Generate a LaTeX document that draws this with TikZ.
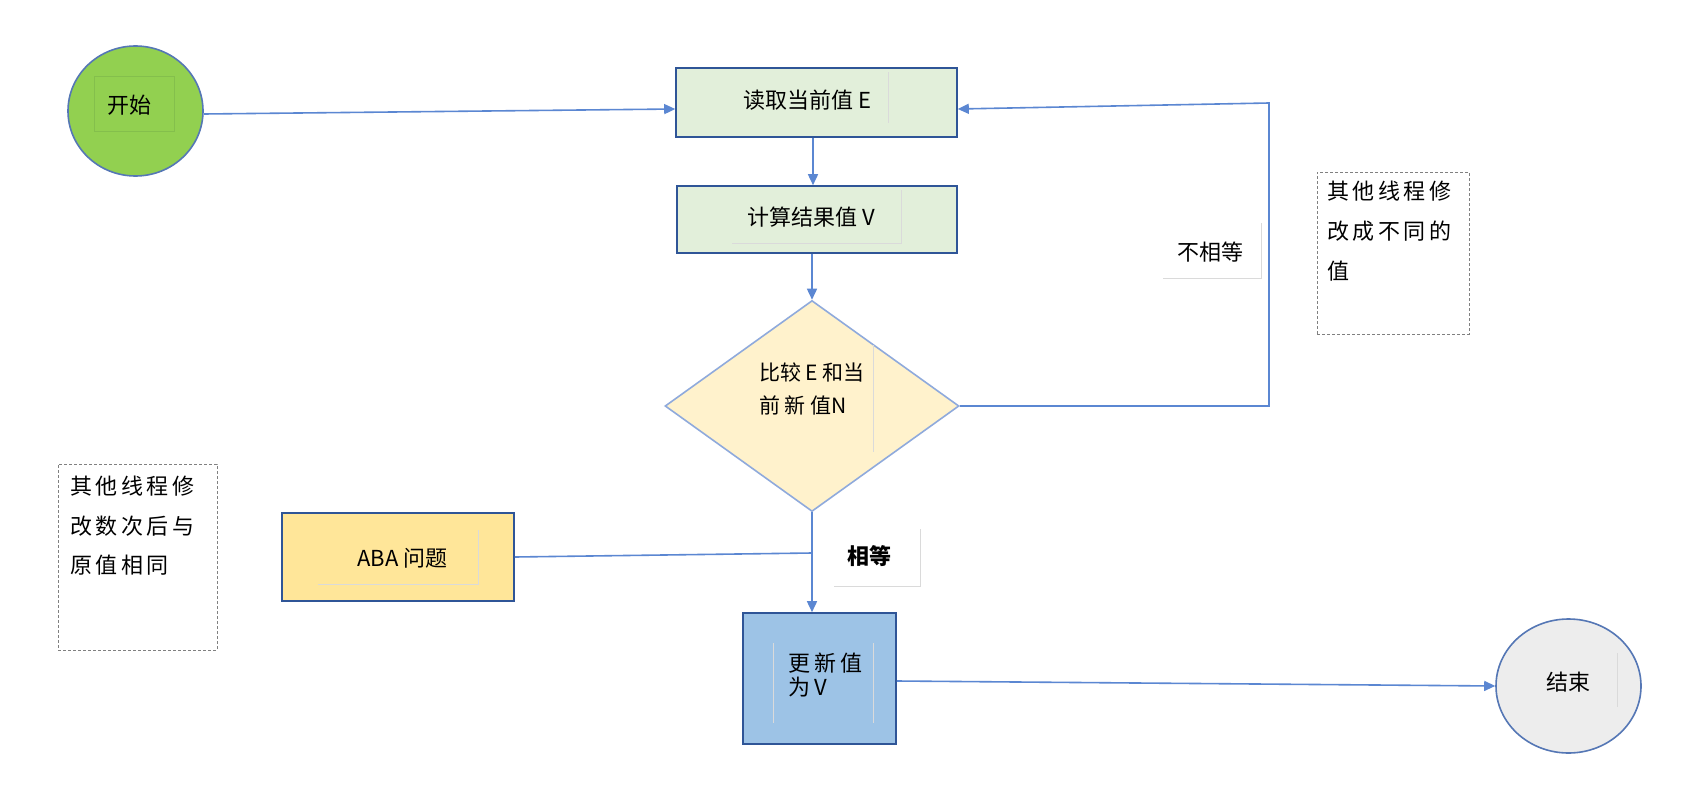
\documentclass[tikz,border=0pt]{standalone}
\usepackage{fontspec}
\setmainfont{Noto Sans CJK SC}
\newfontfamily\spaced[LetterSpace=16]{Noto Sans CJK SC}
\usetikzlibrary{shapes.geometric,arrows.meta}
\definecolor{conn}{HTML}{5B87D2}
\definecolor{darkb}{HTML}{2F5597}
\definecolor{midb}{HTML}{5577B5}
\definecolor{lightb}{HTML}{8FAADC}
\definecolor{startfill}{HTML}{92D050}
\definecolor{procfill}{HTML}{E2EFDA}
\definecolor{decfill}{HTML}{FFF2CC}
\definecolor{abafill}{HTML}{FFE699}
\definecolor{updfill}{HTML}{9DC3E6}
\definecolor{endfill}{HTML}{EDEDED}
\definecolor{ghost}{HTML}{DADADA}
\definecolor{ghostgreen}{HTML}{84BF4C}
\begin{document}
\begin{tikzpicture}[x=1pt,y=-1pt,
  base/.style={font={\fontsize{22}{26}\selectfont}, inner sep=0pt, line width=1.6pt},
  terminal/.style={base, ellipse, draw=midb},
  proc/.style={base, rectangle, draw=darkb},
  decision/.style={base, diamond, draw=lightb, fill=decfill},
  notebox/.style={draw=gray, dashed, dash pattern=on 3pt off 2pt, line width=1pt, inner sep=0pt},
  notetext/.style={font={\spaced\fontsize{22}{40}\selectfont}, align=left, anchor=north west, inner sep=0pt},
  lbl/.style={font={\fontsize{22}{26}\selectfont}, inner sep=0pt},
  arrow/.style={draw=conn, line width=1.6pt, -{Triangle[length=11pt,width=10pt]}},
  link/.style={draw=conn, line width=1.6pt},
  ghostline/.style={draw=ghost, line width=0.8pt}
]
\useasboundingbox (0,0) rectangle (1692,803);
\fill[white] (0,0) rectangle (1692,803);

% nodes
\node[terminal, fill=startfill, minimum width=135pt, minimum height=130pt,
  label={[lbl, xshift=-6pt, yshift=6pt]center:开始}] (start) at (135.5,111) {};
\node[proc, fill=procfill, minimum width=281pt, minimum height=69pt,
  label={[lbl, xshift=-9pt, yshift=2.5pt]center:读取当前值 E}] (read) at (816.5,102.5) {};
\node[proc, fill=procfill, minimum width=280pt, minimum height=67pt,
  label={[lbl, xshift=-5.5pt, yshift=2.5pt]center:计算结果值 V}] (calc) at (817,219.5) {};
\node[decision, minimum width=294pt, minimum height=211pt,
  label={[lbl, align=left, font={\fontsize{21}{33}\selectfont}, yshift=17.5pt]center:比较 E 和当\\前 新 值N}] (cmp) at (812,406) {};
\node[proc, fill=abafill, minimum width=232pt, minimum height=88pt,
  label={[lbl, xshift=4.5pt, yshift=-1pt]center:ABA 问题}] (aba) at (398,557) {};
\node[proc, fill=updfill, minimum width=153pt, minimum height=131pt,
  label={[lbl, align=left, font={\spaced\fontsize{22}{24}\selectfont}, xshift=6pt, yshift=3.5pt]center:更新值\\为V}] (update) at (819.5,678.5) {};
\node[terminal, fill=endfill, minimum width=145pt, minimum height=134pt,
  label={[lbl, yshift=4pt]center:结束}] (end) at (1568.5,686) {};

% notes
\node[notebox, minimum width=152pt, minimum height=162pt] (noteR) at (1393,253) {};
\node[notetext] (noteRt) at (1327,181) {其他线程修\\改成不同的\\值};
\node[notebox, minimum width=159pt, minimum height=186pt] (noteL) at (137.5,557) {};
\node[notetext, font={\spaced\fontsize{22}{39.5}\selectfont}] (noteLt) at (70,476) {其他线程修\\改数次后与\\原值相同};

% edge labels
\node[lbl] (neq) at (1210,252) {不相等};
\node[lbl, font={\bfseries\fontsize{22}{26}\selectfont}] (eq) at (869.5,556) {相等};

% ghost textbox borders
\draw[draw=ghostgreen, line width=0.8pt] (94,76) rectangle (174,131);
\draw[ghostline] (888,72) -- (888,123);
\draw[ghostline] (732,243) -- (901,243) -- (901,190);
\draw[ghostline] (873,345) -- (873,452);
\draw[ghostline] (318,584) -- (478,584) -- (478,530);
\draw[ghostline] (773,643) -- (773,723);
\draw[ghostline] (873,643) -- (873,723);
\draw[ghostline] (1617,653) -- (1617,707);
\draw[ghostline] (1163,278) -- (1261,278) -- (1261,223);
\draw[ghostline] (834,586) -- (920,586) -- (920,529);

% connectors
\coordinate (loopB) at (1269,406);
\coordinate (loopT) at (1269,103);
\coordinate (abaJ) at (812,553);

\draw[arrow] ([yshift=-3pt]start.east) -- ([yshift=-6.5pt]read.west);
\draw[arrow] (read.south -| 813,0) -- (calc.north -| 813,0);
\draw[arrow] (cmp.north |- calc.south) -- (cmp.north);
\draw[arrow] (cmp.east) -- (loopB) -- (loopT) -- ([yshift=-6.5pt]read.east);
\draw[arrow] (cmp.south) -- (cmp.south |- update.north);
\draw[link] (aba.east) -- (abaJ);
\draw[arrow] ([yshift=-2.5pt]update.east) -- (end.west);
\end{tikzpicture}
\end{document}
